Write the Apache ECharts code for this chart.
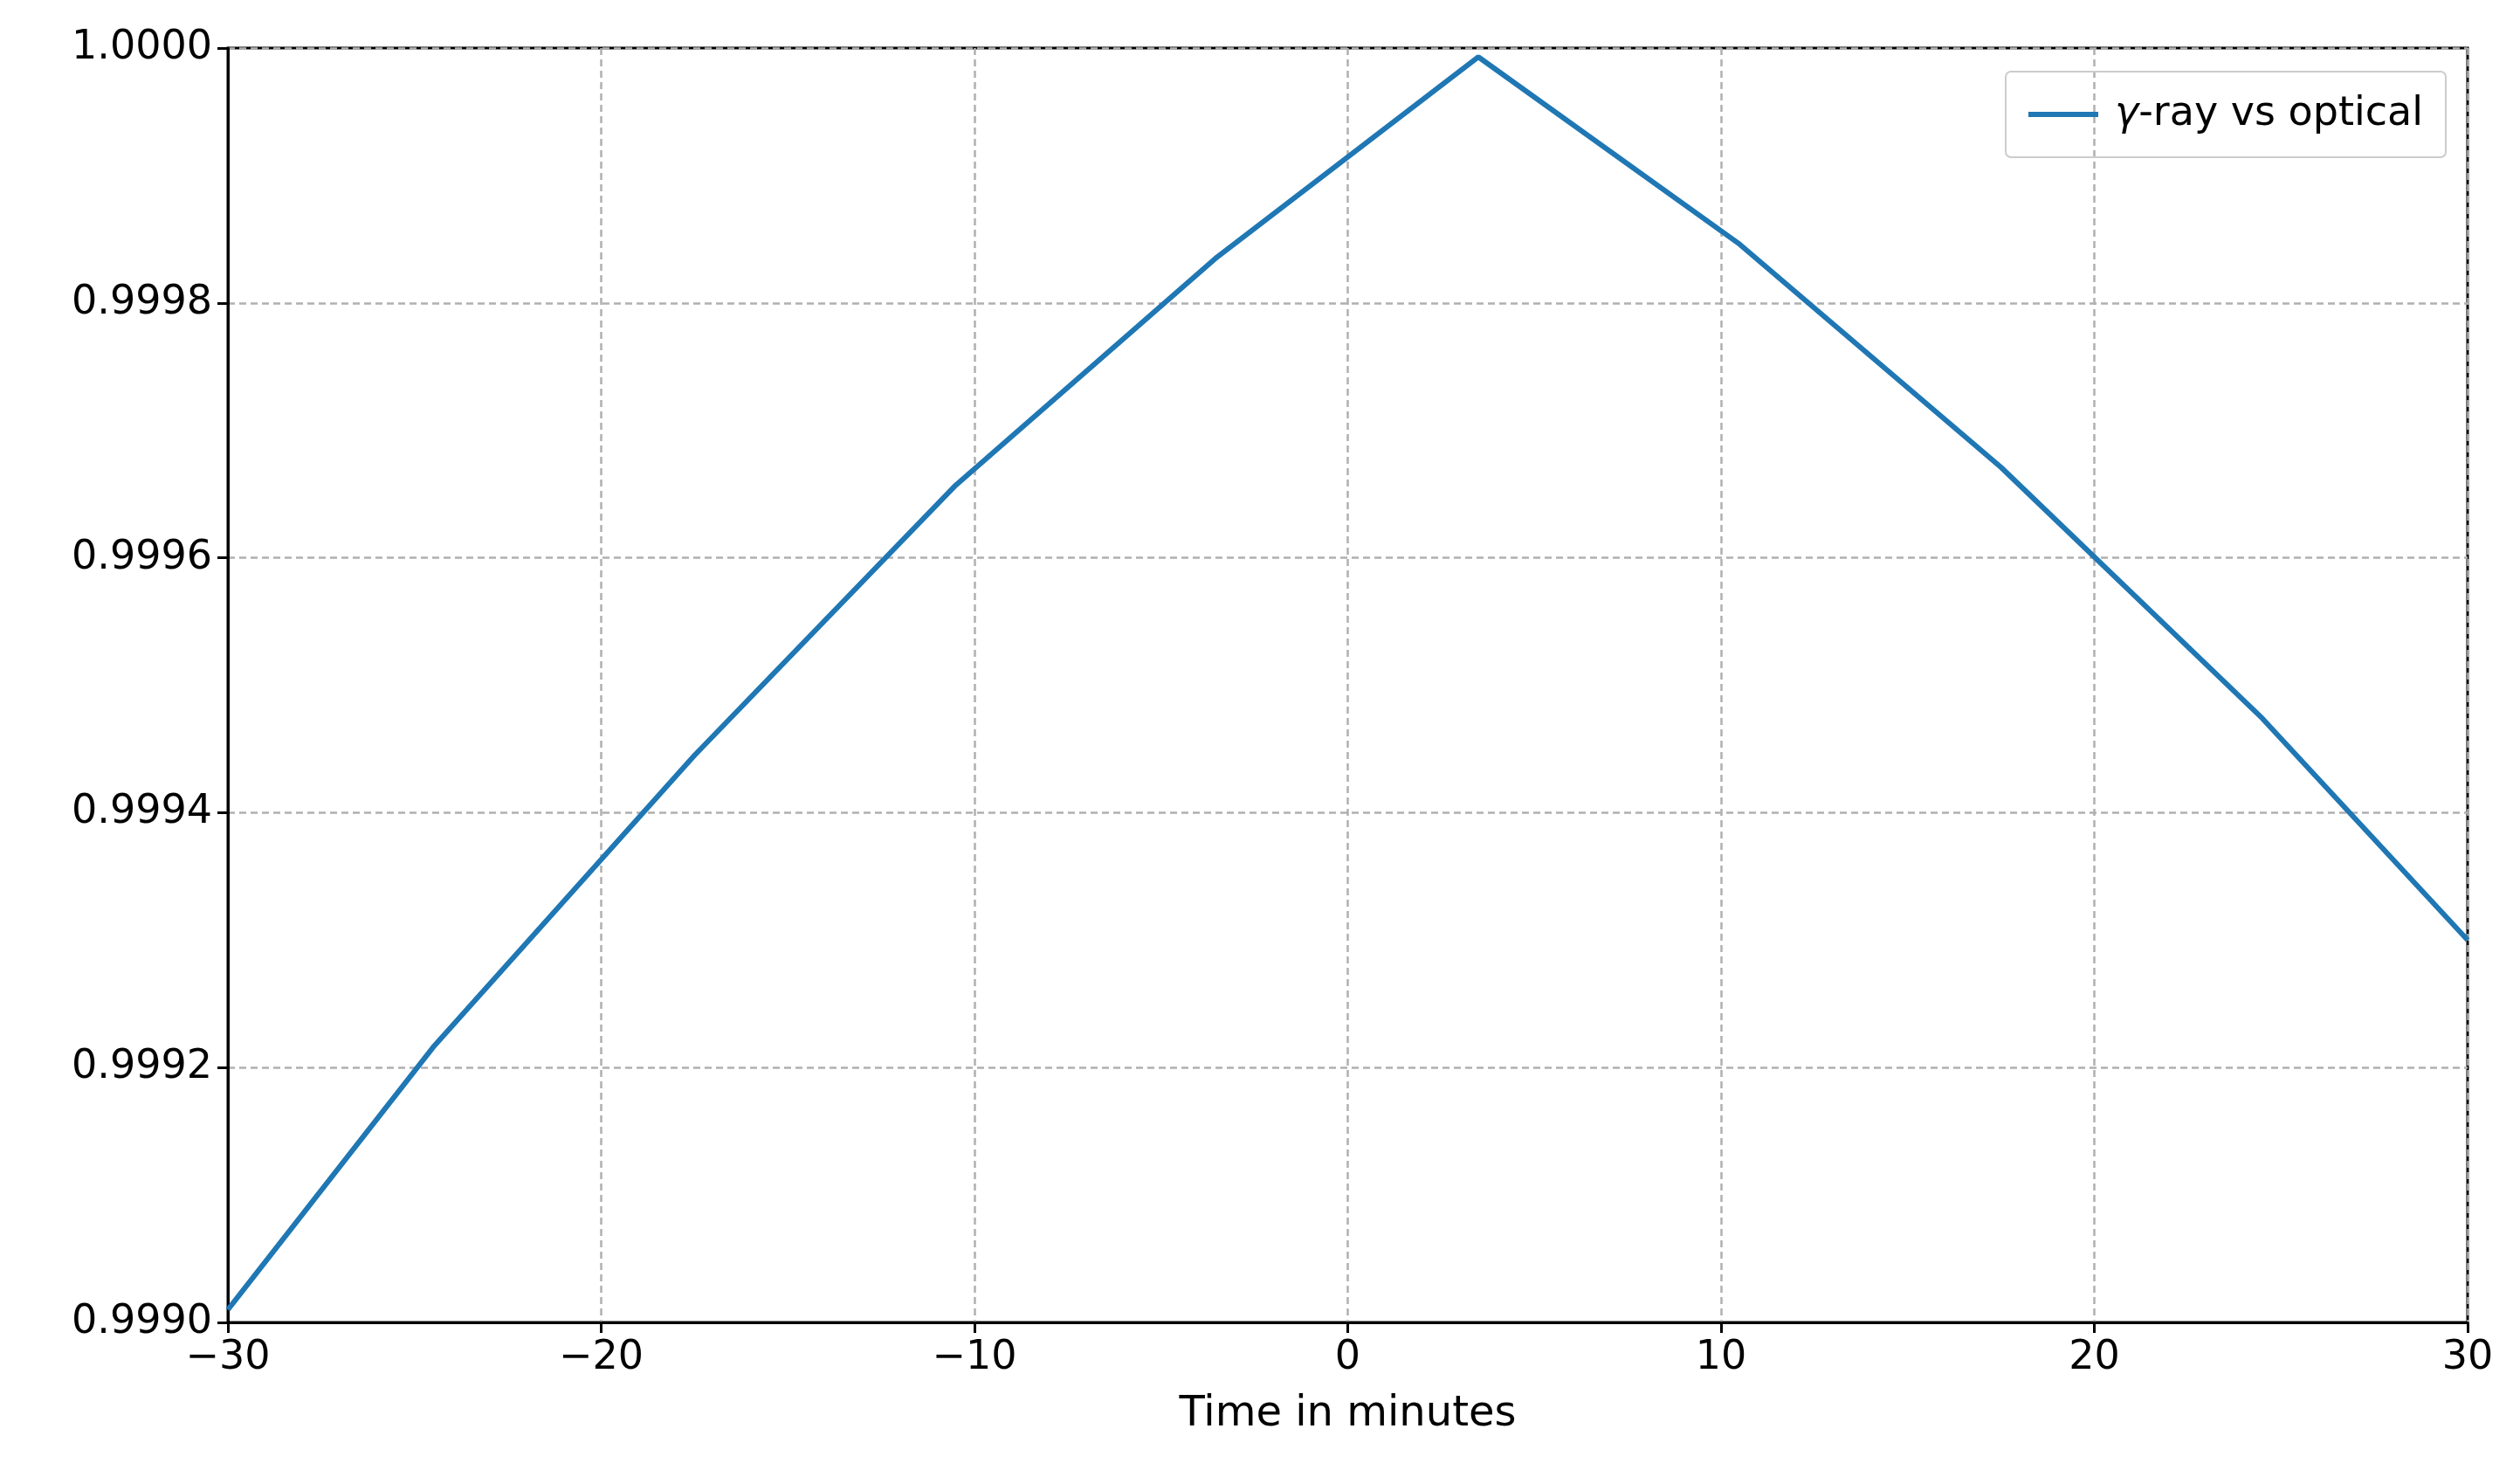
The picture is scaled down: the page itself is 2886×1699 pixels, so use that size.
<!DOCTYPE html>
<html style="height: 100%">
<head><meta charset="utf-8"></head>
<body style="height: 100%; margin: 0; background: #fff">
<div id="container" style="height: 100%"></div>
<script src="https://cdn.jsdelivr.net/npm/echarts@6/dist/echarts.min.js"></script>
<script>
var times = [-30, -24.5, -17.5, -10.5, -3.5, 3.5, 10.5, 17.5, 24.5, 30];
var corr = [0.99901, 0.999216, 0.999445, 0.999657, 0.999836, 0.999993, 0.999846, 0.999671, 0.999474, 0.999300];
var seriesName = 'γ-ray vs optical';

var chart = echarts.init(document.getElementById('container'));
var font = 'DejaVu Sans';
var gridLine = {show: true, lineStyle: {color: '#b0b0b0', type: [8, 5], width: 2.5}};
var axisLine = {show: true, onZero: false, lineStyle: {color: '#000', width: 3}};
var tick = {show: true, inside: false, length: 12, lineStyle: {color: '#000', width: 3}};

chart.setOption({
    animation: false,
    textStyle: {fontFamily: font},
    grid: {left: 261, right: 60, top: 55, bottom: 185, containLabel: false,
        show: true, borderColor: '#000', borderWidth: 3, backgroundColor: 'transparent'},
    legend: {
        right: 85, top: 82,
        padding: [26, 26, 26, 26],
        borderColor: '#cccccc', borderWidth: 2, borderRadius: 6,
        itemWidth: 80, itemHeight: 6, itemGap: 10,
        icon: 'rect',
        textStyle: {fontSize: 46, color: '#000', fontFamily: font, padding: [0, 0, 0, 14],
            rich: {g: {fontStyle: 'italic', fontSize: 46, fontFamily: font}}},
        formatter: function () { return '{g|γ}-ray vs optical'; },
        data: [seriesName]
    },
    xAxis: {
        type: 'value', min: -30, max: 30, interval: 10,
        name: 'Time in minutes', nameLocation: 'middle', nameGap: 82,
        nameTextStyle: {fontSize: 48, color: '#000'},
        axisLine: axisLine, axisTick: tick,
        axisLabel: {fontSize: 46, color: '#000', margin: 18,
            formatter: function (v) { return v < 0 ? '\u2212' + (-v) : '' + v; }},
        splitLine: gridLine
    },
    yAxis: {
        type: 'value', min: 0.999, max: 1.0, interval: 0.0002,
        axisLine: axisLine, axisTick: tick,
        axisLabel: {fontSize: 46, color: '#000', margin: 18,
            formatter: function (v) { return v.toFixed(4); }},
        splitLine: gridLine
    },
    series: [{
        name: seriesName, type: 'line', showSymbol: false,
        data: times.map(function (t, i) { return [t, corr[i]]; }),
        lineStyle: {color: '#1f77b4', width: 6},
        itemStyle: {color: '#1f77b4'}
    }]
});
</script>
</body>
</html>
